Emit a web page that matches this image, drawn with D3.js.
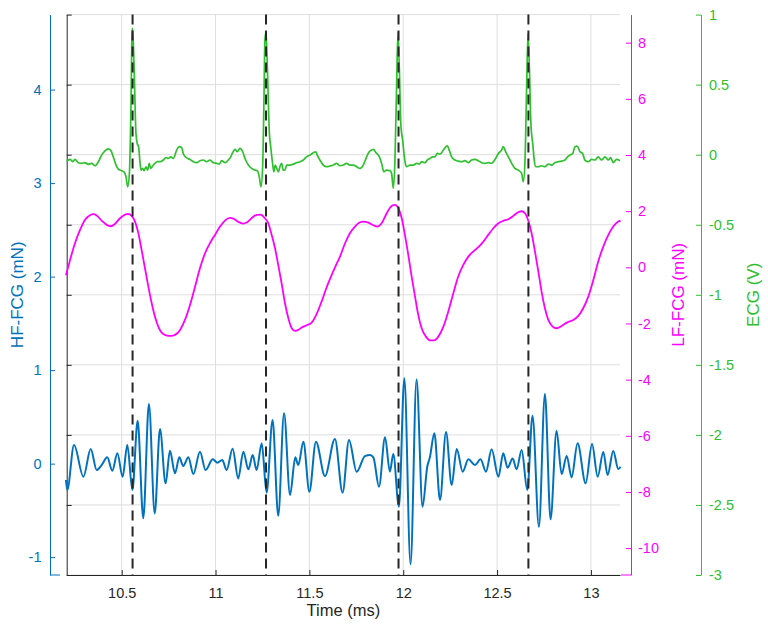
<!DOCTYPE html>
<html><head><meta charset="utf-8">
<script src="https://cdn.jsdelivr.net/npm/d3@7"></script>
<style>
body{margin:0;background:#fff;}
text{font-family:"Liberation Sans", Arial, Helvetica, sans-serif;}
</style>
</head><body>
<svg id="chart" width="768" height="630"></svg>
<script>
// ---------- data ----------
const timeTicks = [10.5, 11, 11.5, 12, 12.5, 13];
const hfTicks = [-1, 0, 1, 2, 3, 4];
const lfTicks = [-10, -8, -6, -4, -2, 0, 2, 4, 6, 8];
const ecgTicks = [-3, -2.5, -2, -1.5, -1, -0.5, 0, 0.5, 1];
const rPeakTimes = [10.558, 11.269, 11.975, 12.667];

const ecgTime = [10.207,10.225,10.239,10.251,10.269,10.287,10.304,10.322,10.340,10.358,10.376,10.393,10.411,10.429,10.441,10.455,10.470,10.482,10.500,10.512,10.523,10.532,10.541,10.550,10.555,10.558,10.566,10.576,10.583,10.590,10.598,10.603,10.612,10.619,10.629,10.638,10.647,10.654,10.665,10.677,10.690,10.704,10.722,10.736,10.748,10.761,10.775,10.793,10.807,10.819,10.828,10.843,10.864,10.882,10.899,10.917,10.935,10.953,10.970,10.988,11.006,11.020,11.033,11.050,11.068,11.081,11.091,11.104,11.116,11.130,11.145,11.157,11.175,11.192,11.210,11.223,11.233,11.242,11.251,11.258,11.263,11.269,11.276,11.287,11.294,11.304,11.311,11.318,11.326,11.335,11.343,11.352,11.361,11.370,11.379,11.397,11.415,11.432,11.450,11.468,11.485,11.503,11.521,11.535,11.542,11.556,11.574,11.592,11.610,11.628,11.645,11.663,11.681,11.699,11.716,11.734,11.752,11.770,11.787,11.805,11.819,11.832,11.841,11.855,11.873,11.885,11.897,11.912,11.929,11.938,11.947,11.956,11.965,11.972,11.979,11.988,11.997,12.004,12.011,12.018,12.036,12.054,12.071,12.086,12.098,12.116,12.128,12.142,12.157,12.169,12.182,12.196,12.214,12.228,12.235,12.245,12.258,12.276,12.293,12.311,12.329,12.347,12.364,12.382,12.400,12.418,12.436,12.453,12.471,12.489,12.507,12.524,12.533,12.546,12.560,12.578,12.595,12.613,12.631,12.640,12.649,12.658,12.665,12.672,12.681,12.690,12.698,12.707,12.720,12.737,12.755,12.773,12.791,12.808,12.826,12.844,12.862,12.876,12.888,12.903,12.915,12.927,12.942,12.956,12.968,12.986,13.004,13.022,13.039,13.057,13.075,13.093,13.105,13.119,13.137,13.155];
const ecgValue = [-0.050,-0.034,-0.050,-0.034,-0.057,-0.062,-0.057,-0.069,-0.062,-0.079,-0.050,-0.003,0.028,0.042,0.033,-0.015,-0.074,-0.103,-0.114,-0.122,-0.157,-0.229,-0.134,0.389,0.865,0.901,0.627,0.152,0.080,0.057,-0.062,-0.110,-0.098,-0.114,-0.086,-0.110,-0.062,-0.098,-0.081,-0.062,-0.050,-0.050,-0.038,-0.020,-0.027,-0.015,-0.027,0.033,0.057,0.052,0.009,-0.020,-0.034,-0.050,-0.057,-0.043,-0.038,-0.050,-0.038,-0.057,-0.062,-0.067,-0.043,-0.057,-0.038,-0.015,0.014,0.038,0.021,0.045,0.021,-0.027,-0.074,-0.098,-0.110,-0.114,-0.157,-0.229,-0.086,0.389,0.817,0.877,0.627,0.152,0.057,-0.062,-0.122,-0.074,-0.098,-0.122,-0.086,-0.062,-0.110,-0.110,-0.074,-0.074,-0.067,-0.057,-0.050,-0.038,-0.015,-0.003,0.014,0.021,-0.003,-0.038,-0.074,-0.086,-0.081,-0.074,-0.062,-0.079,-0.074,-0.062,-0.074,-0.074,-0.086,-0.098,-0.074,-0.015,0.021,0.033,0.038,0.014,-0.015,-0.062,-0.122,-0.110,-0.114,-0.134,-0.240,-0.038,0.508,0.877,0.627,0.199,0.104,0.009,-0.062,-0.086,-0.074,-0.074,-0.062,-0.067,-0.050,-0.057,-0.038,-0.027,-0.015,-0.015,0.009,0.004,0.033,0.057,0.064,0.033,-0.015,-0.038,-0.046,-0.050,-0.043,-0.057,-0.038,-0.034,-0.043,-0.057,-0.062,-0.057,-0.062,-0.034,0.009,0.033,0.057,0.021,-0.015,-0.062,-0.098,-0.110,-0.134,-0.193,-0.038,0.508,0.865,0.627,0.199,0.080,-0.038,-0.086,-0.086,-0.079,-0.086,-0.067,-0.074,-0.057,-0.050,-0.046,-0.038,-0.015,-0.003,0.009,0.057,0.062,0.021,0.009,-0.038,-0.050,-0.034,-0.038,-0.015,-0.038,-0.015,-0.038,-0.020,-0.057,-0.034,-0.043];

const lfTime = [10.203,10.225,10.251,10.278,10.304,10.331,10.349,10.367,10.393,10.420,10.441,10.464,10.491,10.518,10.535,10.553,10.571,10.589,10.606,10.624,10.642,10.660,10.677,10.695,10.713,10.736,10.763,10.784,10.811,10.837,10.864,10.891,10.917,10.944,10.970,10.997,11.024,11.050,11.077,11.095,11.121,11.148,11.166,11.192,11.219,11.240,11.263,11.281,11.299,11.317,11.334,11.352,11.370,11.388,11.406,11.423,11.441,11.459,11.486,11.512,11.539,11.565,11.592,11.619,11.645,11.663,11.690,11.716,11.743,11.770,11.787,11.814,11.841,11.862,11.885,11.912,11.938,11.956,11.974,11.992,12.009,12.027,12.045,12.063,12.080,12.098,12.121,12.142,12.164,12.187,12.214,12.240,12.267,12.293,12.320,12.347,12.373,12.400,12.427,12.453,12.480,12.507,12.533,12.560,12.586,12.613,12.631,12.649,12.666,12.684,12.702,12.720,12.737,12.755,12.773,12.796,12.817,12.844,12.871,12.906,12.933,12.959,12.986,13.013,13.039,13.066,13.093,13.119,13.146,13.158];
const lfValue = [-0.28,0.264,0.857,1.332,1.689,1.855,1.891,1.843,1.665,1.511,1.463,1.546,1.748,1.879,1.902,1.831,1.629,1.214,0.620,-0.033,-0.686,-1.280,-1.755,-2.111,-2.325,-2.420,-2.444,-2.408,-2.230,-1.874,-1.339,-0.686,-0.033,0.501,0.857,1.154,1.451,1.665,1.760,1.736,1.617,1.558,1.594,1.748,1.867,1.879,1.748,1.570,1.154,0.679,0.086,-0.568,-1.280,-1.814,-2.171,-2.266,-2.230,-2.147,-2.064,-1.969,-1.660,-1.221,-0.710,-0.271,0.121,0.382,0.857,1.214,1.451,1.606,1.629,1.594,1.499,1.451,1.570,1.926,2.187,2.223,2.104,1.748,1.154,0.442,-0.330,-1.043,-1.696,-2.171,-2.468,-2.600,-2.600,-2.468,-2.111,-1.577,-0.924,-0.330,0.086,0.382,0.561,0.715,0.917,1.154,1.392,1.570,1.653,1.712,1.831,1.962,1.997,1.926,1.665,1.214,0.561,-0.152,-0.864,-1.458,-1.874,-2.111,-2.171,-2.088,-1.969,-1.874,-1.731,-1.458,-1.043,-0.449,0.204,0.739,1.154,1.451,1.629,1.665];

const hfTime = [10.203,10.210,10.246,10.296,10.335,10.367,10.393,10.423,10.450,10.477,10.505,10.530,10.557,10.585,10.615,10.645,10.676,10.704,10.734,10.757,10.784,10.807,10.828,10.855,10.882,10.917,10.947,10.985,11.010,11.036,11.059,11.091,11.121,11.148,11.175,11.198,11.219,11.246,11.272,11.304,11.334,11.365,11.397,11.425,11.441,11.468,11.500,11.535,11.583,11.636,11.677,11.711,11.752,11.796,11.823,11.841,11.871,11.903,11.929,11.947,11.977,12.006,12.039,12.071,12.103,12.128,12.142,12.166,12.196,12.228,12.258,12.285,12.317,12.347,12.382,12.412,12.441,12.471,12.507,12.533,12.556,12.583,12.604,12.631,12.661,12.689,12.723,12.755,12.785,12.817,12.844,12.871,12.897,12.929,12.972,13.006,13.036,13.066,13.089,13.119,13.146,13.158];
const hfValue = [-0.175,-0.282,0.199,-0.140,0.156,-0.069,-0.015,0.067,-0.076,0.110,-0.140,0.199,-0.282,0.459,-0.585,0.637,-0.532,0.370,-0.211,0.138,-0.104,0.067,-0.026,0.067,-0.111,0.128,-0.069,0.046,0.010,0.039,-0.069,0.160,-0.158,0.128,-0.061,0.092,-0.069,0.217,-0.311,0.466,-0.557,0.538,-0.336,0.067,-0.015,0.235,-0.300,0.235,-0.133,0.263,-0.311,0.253,-0.086,0.081,0.092,0.067,-0.247,0.281,-0.086,0.103,-0.461,0.912,-1.077,0.901,-0.461,-0.033,0.067,0.324,-0.389,0.338,-0.229,0.156,-0.086,0.046,-0.015,0.046,-0.086,0.153,-0.140,0.110,-0.044,0.056,-0.061,0.146,-0.282,0.513,-0.675,0.744,-0.596,0.352,-0.111,0.081,-0.147,0.217,-0.211,0.210,-0.140,0.124,-0.122,0.135,-0.058,-0.033];

// ---------- layout ----------
const L = 66.7, R = 620, T = 14.6, B = 575;
const xAxisBlue = 50, xAxisMag = 631, xAxisGreen = 701;
const cBlue = "#0072BD", cMag = "#FF00FF", cGreen = "#2EC02E", cAxis = "#262626", cGrid = "#dedede";
const tickFont = "14.5px", titleFont = "17px";

const svg = d3.select("#chart");
const x = d3.scaleLinear().domain([10.207, 13.155]).range([L, R]);
const yEcg = d3.scaleLinear().domain([-3, 1]).range([B, T]);
const yHf = d3.scaleLinear().domain([-1.191, 4.802]).range([B, T]);
const yLf = d3.scaleLinear().domain([-10.958, 9.0]).range([B, T]);
const fmt = v => String(v).replace("\u2212", "-");

// grid
const grid = svg.append("g");
grid.selectAll("line.v").data(timeTicks).join("line")
  .attr("x1", d => x(d)).attr("x2", d => x(d)).attr("y1", T).attr("y2", B)
  .attr("stroke", cGrid).attr("stroke-width", 1);
grid.selectAll("line.h").data(ecgTicks).join("line")
  .attr("x1", L).attr("x2", R).attr("y1", d => yEcg(d)).attr("y2", d => yEcg(d))
  .attr("stroke", cGrid).attr("stroke-width", 1);

// main black axes (no labels on left)
const gLeft = svg.append("g").attr("transform", `translate(${L},0)`)
  .call(d3.axisRight(yEcg).tickValues(ecgTicks).tickSizeInner(5).tickSizeOuter(0).tickFormat(""));
gLeft.selectAll("path,line").attr("stroke", cAxis);
const gBottom = svg.append("g").attr("transform", `translate(0,${B})`)
  .call(d3.axisBottom(x).tickValues(timeTicks).tickSizeInner(-5).tickSizeOuter(0).tickPadding(13).tickFormat(fmt));
gBottom.selectAll("path,line").attr("stroke", cAxis);
gBottom.selectAll("text").attr("fill", cAxis).style("font-size", tickFont).style("font-family", "Liberation Sans, Arial, sans-serif");

// HF blue axis
const gHf = svg.append("g").attr("transform", `translate(${xAxisBlue},0)`)
  .call(d3.axisLeft(yHf).tickValues(hfTicks).tickSizeInner(-5).tickSizeOuter(0).tickPadding(8.5).tickFormat(fmt));
gHf.selectAll("path,line").attr("stroke", cBlue);
gHf.selectAll("text").attr("fill", cBlue).style("font-size", tickFont).style("font-family", "Liberation Sans, Arial, sans-serif");
svg.append("line").attr("x1", xAxisBlue).attr("x2", xAxisBlue + 10).attr("y1", B).attr("y2", B).attr("stroke", cBlue);

// LF magenta axis
const gLf = svg.append("g").attr("transform", `translate(${xAxisMag},0)`)
  .call(d3.axisRight(yLf).tickValues(lfTicks).tickSizeInner(-5).tickSizeOuter(0).tickPadding(7).tickFormat(fmt));
gLf.selectAll("path,line").attr("stroke", cMag);
gLf.selectAll("text").attr("fill", cMag).style("font-size", tickFont).style("font-family", "Liberation Sans, Arial, sans-serif");
svg.append("line").attr("x1", xAxisMag - 10).attr("x2", xAxisMag).attr("y1", B).attr("y2", B).attr("stroke", cMag);

// ECG green axis
const gEcg = svg.append("g").attr("transform", `translate(${xAxisGreen},0)`)
  .call(d3.axisRight(yEcg).tickValues(ecgTicks).tickSizeInner(-5).tickSizeOuter(0).tickPadding(8).tickFormat(fmt));
gEcg.selectAll("path,line").attr("stroke", cGreen);
gEcg.selectAll("text").attr("fill", cGreen).style("font-size", tickFont).style("font-family", "Liberation Sans, Arial, sans-serif");

// axis titles
const midY = (T + B) / 2;
svg.append("text").attr("transform", `translate(23,${midY}) rotate(-90)`).attr("text-anchor", "middle")
  .attr("fill", cBlue).style("font-size", titleFont).text("HF-FCG (mN)");
svg.append("text").attr("transform", `translate(683.5,${midY}) rotate(-90)`).attr("text-anchor", "middle")
  .attr("fill", cMag).style("font-size", titleFont).text("LF-FCG (mN)");
svg.append("text").attr("transform", `translate(758.5,${midY}) rotate(-90)`).attr("text-anchor", "middle")
  .attr("fill", cGreen).style("font-size", titleFont).text("ECG (V)");
svg.append("text").attr("x", (L + R) / 2).attr("y", 616).attr("text-anchor", "middle")
  .attr("fill", cAxis).style("font-size", "16.5px").text("Time (ms)");

// series
const series = [
  {t: hfTime, v: hfValue, y: yHf, color: cBlue, w: 2},
  {t: lfTime, v: lfValue, y: yLf, color: cMag, w: 1.8},
  {t: ecgTime, v: ecgValue, y: yEcg, color: cGreen, w: 1.7}
];
series.forEach(s => {
  const pts = s.t.map((t, i) => [t, s.v[i]]);
  const line = d3.line().x(d => x(d[0])).y(d => s.y(d[1])).curve(d3.curveMonotoneX);
  svg.append("path").datum(pts).attr("d", line).attr("fill", "none")
    .attr("stroke", s.color).attr("stroke-width", s.w).attr("stroke-linejoin", "round");
});

// R-peak markers
svg.append("g").selectAll("line").data(rPeakTimes).join("line")
  .attr("x1", d => x(d)).attr("x2", d => x(d)).attr("y1", T).attr("y2", B)
  .attr("stroke", cAxis).attr("stroke-width", 2).attr("stroke-dasharray", "10,6");
</script>
</body></html>
